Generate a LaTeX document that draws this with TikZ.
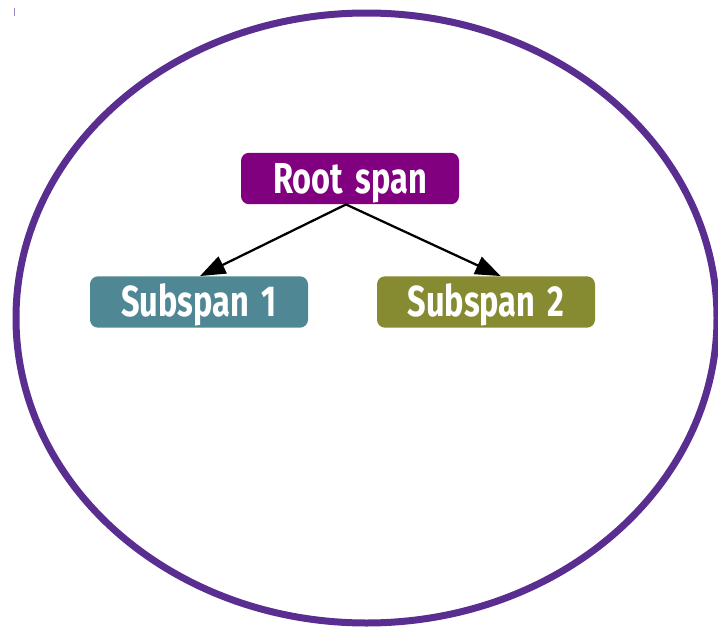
\documentclass[tikz,border=0pt]{standalone}
\usepackage{fontspec}
\newfontfamily\labelfont[FakeStretch=0.75,WordSpace=1.6]{Fira Sans}
\usetikzlibrary{arrows.meta}
\definecolor{rootcol}{HTML}{800080}
\definecolor{subonecol}{HTML}{4F8795}
\definecolor{subtwocol}{HTML}{868A30}
\definecolor{ringcol}{HTML}{5A2D91}
\definecolor{tickcol}{HTML}{9F86C6}
\tikzset{
  spanbox/.style={rounded corners=6pt, minimum width=163.5pt, minimum height=38.5pt,
    inner sep=0pt, text height=22.4pt, text depth=0pt, text=white,
    font=\labelfont\bfseries\fontsize{32.5}{36}\selectfont},
  edge/.style={line width=1.7pt, -{Triangle[length=19pt,width=14pt]}},
}
\begin{document}
\begin{tikzpicture}[x=0.75pt,y=-0.75pt]
\useasboundingbox (0,0) rectangle (718,628);
% outer ring
\draw[ringcol, line width=5.25pt] (366.5,318) ellipse [x radius=350.5, y radius=305];
% small tick in the corner
\draw[tickcol, line width=1pt] (14.5,8) -- (14.5,16);
% spans
\node[spanbox, fill=rootcol] (root) at (350,178.5) {Root span};
\node[spanbox, fill=subonecol] (s1) at (199,302) {Subspan 1};
\node[spanbox, fill=subtwocol] (s2) at (486,302) {Subspan 2};
% edges
\draw[edge] ([xshift=-3pt]root.south) -- ([xshift=0.75pt]s1.north);
\draw[edge] ([xshift=-3pt]root.south) -- ([xshift=11pt]s2.north);
\end{tikzpicture}
\end{document}
